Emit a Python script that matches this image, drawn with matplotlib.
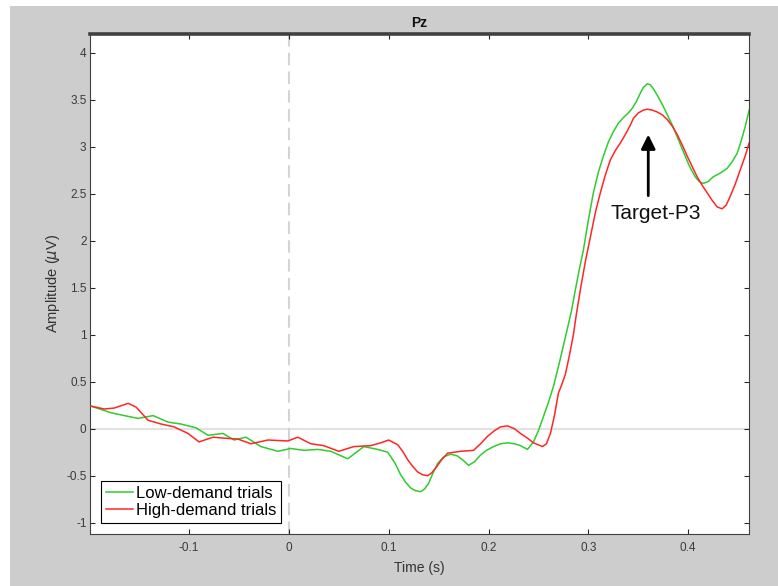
import numpy as np
import matplotlib
matplotlib.use("Agg")
import matplotlib.pyplot as plt
from matplotlib.patches import Rectangle

plt.rcParams['font.family'] = ['Liberation Sans', 'DejaVu Sans']

# Grand-average ERP at Pz (time in s, amplitude in uV)
low_t = [-0.198, -0.178, -0.165, -0.151, -0.136, -0.121, -0.108, -0.093, -0.081, -0.066,
         -0.055, -0.043, -0.028, -0.011, 0.002, 0.015, 0.029, 0.042, 0.059, 0.075,
         0.089, 0.099, 0.106, 0.112, 0.117, 0.122, 0.127, 0.132, 0.136, 0.140,
         0.144, 0.149, 0.155, 0.162, 0.169, 0.175, 0.180, 0.186, 0.192, 0.198,
         0.205, 0.212, 0.219, 0.226, 0.232, 0.239, 0.245, 0.250, 0.255, 0.260,
         0.265, 0.270, 0.274, 0.278, 0.283, 0.287, 0.291, 0.295, 0.300, 0.305,
         0.310, 0.315, 0.320, 0.325, 0.330, 0.335, 0.340, 0.344, 0.348, 0.352,
         0.355, 0.359, 0.362, 0.365, 0.370, 0.375, 0.380, 0.385, 0.390, 0.395,
         0.401, 0.407, 0.411, 0.415, 0.420, 0.425, 0.432, 0.439, 0.444, 0.449,
         0.453, 0.457, 0.461]
low_amp = [0.24, 0.17, 0.14, 0.11, 0.14, 0.07, 0.05, 0.01, -0.07, -0.05,
           -0.12, -0.09, -0.19, -0.24, -0.21, -0.23, -0.22, -0.24, -0.32, -0.19,
           -0.22, -0.25, -0.36, -0.49, -0.57, -0.63, -0.66, -0.67, -0.64, -0.58,
           -0.48, -0.37, -0.30, -0.27, -0.29, -0.34, -0.39, -0.35, -0.28, -0.23,
           -0.19, -0.16, -0.15, -0.16, -0.18, -0.22, -0.14, -0.02, 0.13, 0.28,
           0.45, 0.66, 0.84, 1.02, 1.25, 1.48, 1.70, 1.90, 2.22, 2.51,
           2.73, 2.90, 3.05, 3.16, 3.25, 3.31, 3.36, 3.41, 3.48, 3.57,
           3.63, 3.67, 3.66, 3.62, 3.53, 3.43, 3.32, 3.21, 3.08, 2.95,
           2.80, 2.68, 2.63, 2.61, 2.63, 2.68, 2.72, 2.77, 2.84, 2.93,
           3.06, 3.21, 3.39]

high_t = [-0.198, -0.185, -0.175, -0.161, -0.153, -0.141, -0.128, -0.115, -0.101, -0.090,
          -0.076, -0.065, -0.051, -0.038, -0.021, -0.001, 0.009, 0.022, 0.035, 0.050,
          0.065, 0.082, 0.092, 0.100, 0.109, 0.114, 0.119, 0.124, 0.129, 0.134,
          0.139, 0.143, 0.147, 0.153, 0.159, 0.172, 0.185, 0.192, 0.199, 0.206,
          0.212, 0.219, 0.226, 0.232, 0.239, 0.245, 0.254, 0.258, 0.262, 0.266,
          0.270, 0.273, 0.277, 0.281, 0.285, 0.288, 0.292, 0.297, 0.302, 0.307,
          0.312, 0.317, 0.322, 0.327, 0.332, 0.337, 0.342, 0.345, 0.350, 0.355,
          0.359, 0.364, 0.369, 0.374, 0.379, 0.384, 0.389, 0.394, 0.399, 0.404,
          0.409, 0.414, 0.419, 0.424, 0.429, 0.434, 0.438, 0.442, 0.447, 0.452,
          0.457, 0.461]
high_amp = [0.24, 0.21, 0.22, 0.27, 0.23, 0.09, 0.05, 0.02, -0.05, -0.14,
            -0.09, -0.10, -0.11, -0.16, -0.12, -0.13, -0.09, -0.16, -0.18, -0.24,
            -0.19, -0.18, -0.15, -0.12, -0.17, -0.24, -0.33, -0.40, -0.46, -0.49,
            -0.50, -0.47, -0.42, -0.33, -0.26, -0.24, -0.23, -0.16, -0.08, -0.02,
            0.02, 0.03, 0.00, -0.05, -0.10, -0.15, -0.19, -0.16, -0.05, 0.14,
            0.38, 0.46, 0.58, 0.78, 1.00, 1.22, 1.48, 1.78, 2.04, 2.30,
            2.51, 2.70, 2.86, 2.96, 3.04, 3.13, 3.23, 3.30, 3.36, 3.39,
            3.40, 3.39, 3.37, 3.34, 3.29, 3.22, 3.13, 3.02, 2.90, 2.79,
            2.68, 2.59, 2.51, 2.43, 2.36, 2.34, 2.38, 2.47, 2.60, 2.75,
            2.90, 3.04]

x_ticks = [-0.1, 0, 0.1, 0.2, 0.3, 0.4]
y_ticks = [-1, -0.5, 0, 0.5, 1, 1.5, 2, 2.5, 3, 3.5, 4]
p3_time = 0.36

axis_color = '#262626'

fig = plt.figure(figsize=(7.78, 5.86), dpi=100)
fig.patch.set_facecolor('white')
fig.patches.append(Rectangle((10 / 778, 0), 1, 1 - 6 / 586, transform=fig.transFigure,
                             facecolor='#cdcdcd', edgecolor='none', zorder=-10))

ax = fig.add_axes([90 / 778, 52 / 586, 659 / 778, 500 / 586])

# Reference lines at stimulus onset and zero amplitude
ax.axhline(0, color='#e2e2e2', lw=1.5, zorder=1)
ax.axvline(0, color='#d4d4d4', lw=1.5, ls=(0, (6, 3)), zorder=1)

ax.plot(low_t, low_amp, color='#2fcc2f', lw=1.1, label='Low-demand trials', zorder=3)
ax.plot(high_t, high_amp, color='#ff2626', lw=1.1, label='High-demand trials', zorder=3)

# P3 annotation
ax.annotate('', xy=(p3_time, 3.13), xytext=(p3_time, 2.48),
            arrowprops=dict(arrowstyle='-|>,head_length=0.5,head_width=0.25', lw=2,
                            color='black', mutation_scale=17, shrinkA=0, shrinkB=0))
ax.text(0.367, 2.29, 'Target-P3', ha='center', va='center', fontsize=15, color='#111111')

ax.set_xlim(-0.1992, 0.4609)
ax.set_ylim(-1.12, 4.2)
ax.set_xticks(x_ticks)
ax.set_yticks(y_ticks)
ax.set_xticklabels(['%g' % v for v in x_ticks])
ax.set_yticklabels(['%g' % v for v in y_ticks])
ax.tick_params(direction='in', length=3.6, width=0.8, top=True, right=True,
               colors=axis_color, labelcolor='#3a3a3a', labelsize=8.5)
ax.tick_params(axis='x', pad=6)
ax.tick_params(axis='y', pad=2.5)
for side, sp in ax.spines.items():
    sp.set_color('#404040')
    sp.set_linewidth(0.8)
ax.spines['top'].set_linewidth(2.6)

ax.set_xlabel('Time (s)', fontsize=10, color='#333333', labelpad=5)
ax.set_ylabel('Amplitude ($\\mu$V)', fontsize=10.5, color='#333333', labelpad=3)
ax.set_title('Pz', fontsize=10, fontweight='bold', color='#111111', pad=5)

leg = ax.legend(loc='lower left', fontsize=12, frameon=True, fancybox=False,
                edgecolor='black', framealpha=1, handlelength=1.6, handletextpad=0.2,
                borderaxespad=0.66, borderpad=0.3, labelspacing=0.12)
leg.get_frame().set_linewidth(0.8)

fig.savefig('out.png', dpi=100)
